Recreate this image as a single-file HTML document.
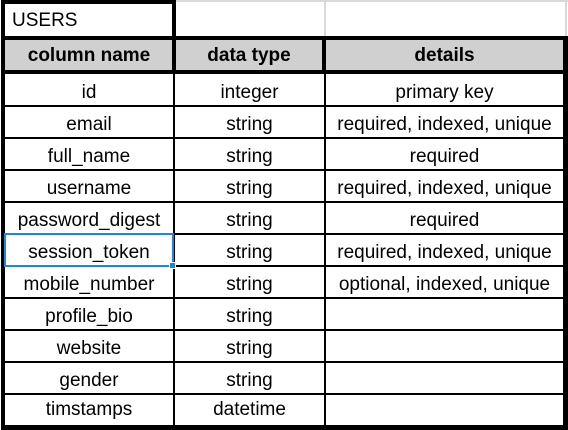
<!DOCTYPE html>
<html><head><meta charset="utf-8"><style>
*{margin:0;padding:0;box-sizing:border-box}
body{width:568px;height:430px;background:#fff;position:relative;overflow:hidden;font-family:"Liberation Sans",Arial,sans-serif;color:#000}
.a{position:absolute}
.k{position:absolute;background:#000}
.g{position:absolute;background:#d9d9d9}
.t{position:absolute;text-align:center;font-size:19px;line-height:33px;height:32px;white-space:nowrap}
.h{font-weight:bold}
</style></head><body>
<div class="g" style="left:175px;top:0;width:393px;height:2px"></div>
<div class="g" style="left:324px;top:0;width:2px;height:40px"></div>
<div class="g" style="left:565px;top:0;width:2px;height:40px"></div>
<div class="a" style="left:4px;top:40px;width:561px;height:31px;background:#d0d0d0"></div>
<div class="k" style="left:1px;top:0;width:175px;height:4px"></div>
<div class="k" style="left:1px;top:0;width:4px;height:430px"></div>
<div class="k" style="left:172px;top:0;width:4px;height:74px"></div>
<div class="k" style="left:1px;top:36px;width:567px;height:4px"></div>
<div class="k" style="left:1px;top:70px;width:567px;height:4px"></div>
<div class="k" style="left:322px;top:36px;width:4px;height:38px"></div>
<div class="k" style="left:563px;top:36px;width:5px;height:394px"></div>
<div class="k" style="left:1px;top:425px;width:567px;height:5px"></div>
<div class="k" style="left:173px;top:74px;width:2px;height:352px"></div>
<div class="k" style="left:324px;top:74px;width:2px;height:352px"></div>
<div class="k" style="left:1px;top:105px;width:567px;height:2px"></div>
<div class="k" style="left:1px;top:137px;width:567px;height:2px"></div>
<div class="k" style="left:1px;top:169px;width:567px;height:2px"></div>
<div class="k" style="left:1px;top:201px;width:567px;height:2px"></div>
<div class="k" style="left:1px;top:233px;width:567px;height:2px"></div>
<div class="k" style="left:1px;top:265px;width:567px;height:2px"></div>
<div class="k" style="left:1px;top:297px;width:567px;height:2px"></div>
<div class="k" style="left:1px;top:329px;width:567px;height:2px"></div>
<div class="k" style="left:1px;top:361px;width:567px;height:2px"></div>
<div class="k" style="left:1px;top:393px;width:567px;height:2px"></div>
<div class="a" style="left:4px;top:233px;width:170px;height:34px;border:2px solid #1a87e8"></div>
<div class="a" style="left:169px;top:262px;width:7px;height:7px;background:#1a87e8;border:1px solid #fff"></div>
<div class="a" style="left:12px;top:5px;font-size:19px;line-height:32px">USERS</div>
<div class="t h" style="left:5px;top:40px;width:168px;line-height:32px">column name</div>
<div class="t h" style="left:175px;top:40px;width:148px;line-height:32px">data type</div>
<div class="t h" style="left:326px;top:40px;width:237px;line-height:32px">details</div>

<div class="t" style="left:5px;top:76px;width:168px">id</div>
<div class="t" style="left:175px;top:76px;width:149px">integer</div>
<div class="t" style="left:326px;top:76px;width:237px">primary key</div>

<div class="t" style="left:5px;top:108px;width:168px">email</div>
<div class="t" style="left:175px;top:108px;width:149px">string</div>
<div class="t" style="left:326px;top:108px;width:237px">required, indexed, unique</div>

<div class="t" style="left:5px;top:140px;width:168px">full_name</div>
<div class="t" style="left:175px;top:140px;width:149px">string</div>
<div class="t" style="left:326px;top:140px;width:237px">required</div>

<div class="t" style="left:5px;top:172px;width:168px">username</div>
<div class="t" style="left:175px;top:172px;width:149px">string</div>
<div class="t" style="left:326px;top:172px;width:237px">required, indexed, unique</div>

<div class="t" style="left:5px;top:204px;width:168px">password_digest</div>
<div class="t" style="left:175px;top:204px;width:149px">string</div>
<div class="t" style="left:326px;top:204px;width:237px">required</div>

<div class="t" style="left:5px;top:236px;width:168px">session_token</div>
<div class="t" style="left:175px;top:236px;width:149px">string</div>
<div class="t" style="left:326px;top:236px;width:237px">required, indexed, unique</div>

<div class="t" style="left:5px;top:268px;width:168px">mobile_number</div>
<div class="t" style="left:175px;top:268px;width:149px">string</div>
<div class="t" style="left:326px;top:268px;width:237px">optional, indexed, unique</div>

<div class="t" style="left:5px;top:300px;width:168px">profile_bio</div>
<div class="t" style="left:175px;top:300px;width:149px">string</div>

<div class="t" style="left:5px;top:332px;width:168px">website</div>
<div class="t" style="left:175px;top:332px;width:149px">string</div>

<div class="t" style="left:5px;top:364px;width:168px">gender</div>
<div class="t" style="left:175px;top:364px;width:149px">string</div>

<div class="t" style="left:5px;top:394px;width:168px;line-height:31px">timstamps</div>
<div class="t" style="left:175px;top:394px;width:149px;line-height:31px">datetime</div>
</body></html>
